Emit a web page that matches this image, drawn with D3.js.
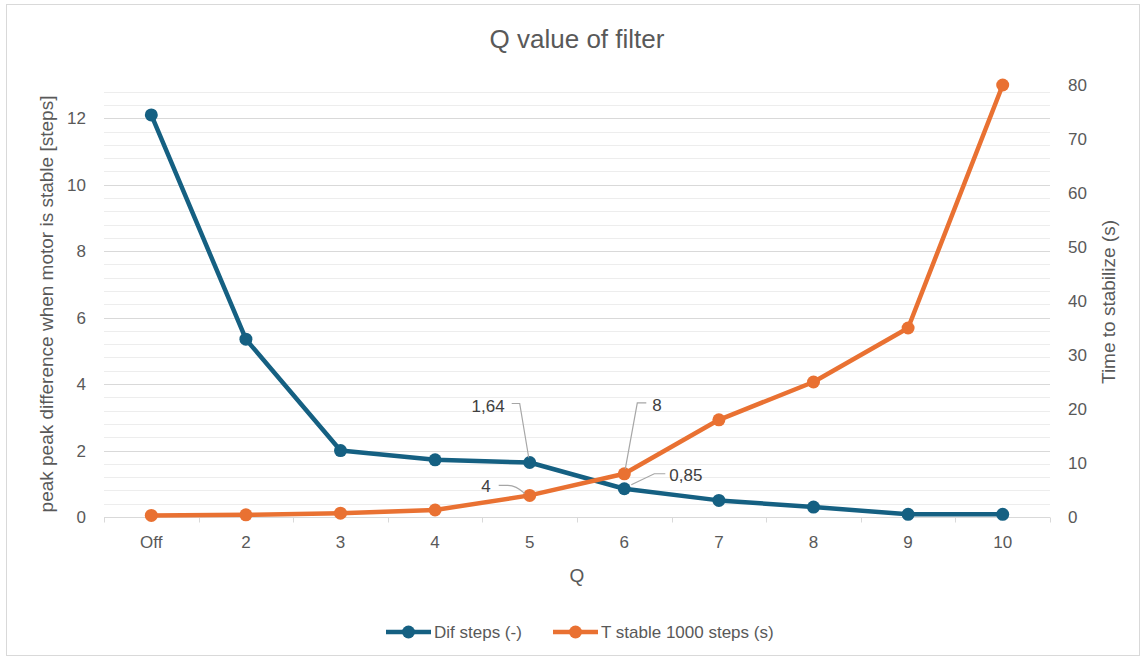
<!DOCTYPE html>
<html><head><meta charset="utf-8">
<script src="https://cdn.jsdelivr.net/npm/d3@7/dist/d3.min.js"></script>
<style>body{margin:0;background:#fff}svg{display:block}text{font-family:"Liberation Sans",Arial,sans-serif}</style>
</head><body>
<script>
const categories = ["Off","2","3","4","5","6","7","8","9","10"];
const difSteps = [12.1, 5.35, 2.0, 1.72, 1.64, 0.85, 0.5, 0.3, 0.08, 0.08];
const tStable = [0.3, 0.4, 0.7, 1.3, 4, 8, 18, 25, 35, 80];
const leftTicks = [0,2,4,6,8,10,12];
const rightTicks = [0,10,20,30,40,50,60,70,80];
const seriesNames = ["Dif steps (-)", "T stable 1000 steps (s)"];
const labels = [ // [series, index, text]
  [0, 4, "1,64"], [1, 4, "4"], [1, 5, "8"], [0, 5, "0,85"]
];

const W = 1146, H = 661;
const m = {l:104, r:1050, t:85, b:517};
const blue = "#156082", orange = "#E97132";
const svg = d3.select("body").append("svg").attr("width", W).attr("height", H);
svg.append("rect").attr("x",6.5).attr("y",4.5).attr("width",1133).attr("height",651)
  .attr("fill","#fff").attr("stroke","#d9d9d9");

const x = d3.scaleBand().domain(categories).range([m.l, m.r]);
const yL = d3.scaleLinear().domain([0,13]).range([m.b, m.t]);
const yR = d3.scaleLinear().domain([0,80]).range([m.b, m.t]);
const cx = c => x(c) + x.bandwidth()/2;

// minor gridlines
const minor = d3.range(1, 33).map(i => i*0.4).filter(v => Math.abs(v/2 - Math.round(v/2)) > 1e-6);
svg.append("g").selectAll("line").data(minor).join("line")
  .attr("x1", m.l).attr("x2", m.r).attr("y1", d=>Math.round(yL(d))+0.5).attr("y2", d=>Math.round(yL(d))+0.5)
  .attr("stroke","#ededed").attr("stroke-width",1);
// major gridlines
svg.append("g").selectAll("line").data(leftTicks.filter(d=>d>0)).join("line")
  .attr("x1", m.l).attr("x2", m.r).attr("y1", d=>Math.round(yL(d))+0.5).attr("y2", d=>Math.round(yL(d))+0.5)
  .attr("stroke","#d9d9d9").attr("stroke-width",1);

// x axis
const xAxis = svg.append("g").attr("transform",`translate(0,${m.b+0.5})`);
xAxis.append("line").attr("x1",m.l).attr("x2",m.r).attr("stroke","#d9d9d9");
const bounds = categories.map(c => x(c)).concat([m.r]);
xAxis.selectAll("line.t").data(bounds).join("line").attr("class","t")
  .attr("x1",d=>Math.round(d)+0.5).attr("x2",d=>Math.round(d)+0.5).attr("y1",0).attr("y2",5).attr("stroke","#d9d9d9");
xAxis.selectAll("text").data(categories).join("text")
  .attr("x", cx).attr("y", 30).attr("text-anchor","middle")
  .attr("font-size",17).attr("fill","#595959").text(d=>d);

// left axis labels
svg.append("g").selectAll("text").data(leftTicks).join("text")
  .attr("x", 86).attr("y", d=>yL(d)+6).attr("text-anchor","end")
  .attr("font-size",17).attr("fill","#595959").text(d=>d);
// right axis labels
svg.append("g").selectAll("text").data(rightTicks).join("text")
  .attr("x", 1068).attr("y", d=>yR(d)+6).attr("text-anchor","start")
  .attr("font-size",17).attr("fill","#595959").text(d=>d);

// titles
svg.append("text").attr("x",577).attr("y",48).attr("text-anchor","middle")
  .attr("font-size",26).attr("fill","#595959").text("Q value of filter");
svg.append("text").attr("transform","translate(53,304) rotate(-90)").attr("text-anchor","middle")
  .attr("font-size",19).attr("fill","#595959").text("peak peak difference when motor is stable [steps]");
svg.append("text").attr("transform","translate(1115,302) rotate(-90)").attr("text-anchor","middle")
  .attr("font-size",19).attr("fill","#595959").text("Time to stabilize (s)");
svg.append("text").attr("x",577).attr("y",582).attr("text-anchor","middle")
  .attr("font-size",19).attr("fill","#595959").text("Q");

// series
const series = [
  {vals: difSteps, y: yL, color: blue},
  {vals: tStable, y: yR, color: orange}
];
const line = (s) => d3.line().x((d,i)=>cx(categories[i])).y(d=>s.y(d));
series.forEach(s => {
  const g = svg.append("g");
  g.append("path").datum(s.vals).attr("d", line(s)).attr("fill","none")
    .attr("stroke", s.color).attr("stroke-width",4.5).attr("stroke-linejoin","round");
  g.selectAll("circle").data(s.vals).join("circle")
    .attr("cx",(d,i)=>cx(categories[i])).attr("cy",d=>s.y(d)).attr("r",6.5).attr("fill",s.color);
});

// data labels with leader lines
const lab = svg.append("g");
const layout = {
  "0-4": {tx:-25, ty:-57, anchor:"end", path:(px,py)=>`M${px-18},${py-59}H${px-10}L${px-1},${py-5}`},
  "1-5": {tx:28, ty:-69, anchor:"start", path:(px,py)=>`M${px+22},${py-71}H${px+13}L${px+1},${py-5}`},
  "0-5": {tx:45, ty:-14, anchor:"start", path:(px,py)=>`M${px+41},${py-15}H${px+30}L${px+7},${py-4}`},
  "1-4": {tx:-39, ty:-9, anchor:"end", path:(px,py)=>`M${px-31},${py-10}H${px-22}Q${px-14},${py-10} ${px-5},${py-2}`}
};
labels.forEach(([si, idx, t]) => {
  const s = series[si];
  const px = cx(categories[idx]), py = s.y(s.vals[idx]);
  const L = layout[si+"-"+idx];
  lab.append("path").attr("d", L.path(px,py)).attr("fill","none").attr("stroke","#a6a6a6").attr("stroke-width",1.2);
  lab.append("text").attr("x",px+L.tx).attr("y",py+L.ty+6).attr("text-anchor",L.anchor)
    .attr("font-size",17).attr("fill","#404040").text(t);
});

// legend
const leg = svg.append("g");
const legItems = [{x:386, color:blue, name:seriesNames[0]}, {x:553, color:orange, name:seriesNames[1]}];
legItems.forEach(it => {
  leg.append("line").attr("x1",it.x).attr("x2",it.x+45).attr("y1",632).attr("y2",632)
    .attr("stroke",it.color).attr("stroke-width",4.5);
  leg.append("circle").attr("cx",it.x+22.5).attr("cy",632).attr("r",6.5).attr("fill",it.color);
  leg.append("text").attr("x",it.x+48).attr("y",638).attr("font-size",17).attr("fill","#595959").text(it.name);
});
</script>
</body></html>
